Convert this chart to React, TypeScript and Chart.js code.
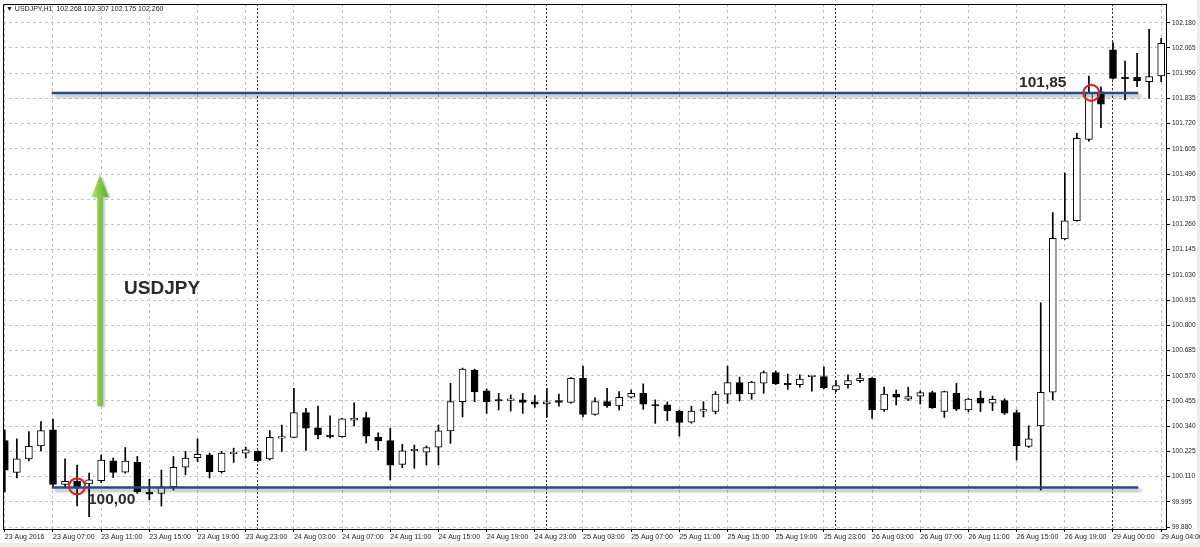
import React, { useEffect, useRef } from "react";
import { Chart, registerables } from "chart.js";
Chart.register(...registerables);

// ---- data (USDJPY, H1) ----
const opens = [
  100.275, 100.129, 100.191, 100.250, 100.323, 100.075, 100.090, 100.077, 100.092, 100.182,
  100.131, 100.175, 100.039, 100.034, 100.064, 100.153, 100.197, 100.209, 100.133, 100.215,
  100.217, 100.225, 100.191, 100.286, 100.289, 100.402, 100.333, 100.300, 100.292, 100.368,
  100.379, 100.291, 100.274, 100.166, 100.228, 100.222, 100.245, 100.319, 100.452, 100.596,
  100.501, 100.460, 100.458, 100.460, 100.451, 100.442, 100.457, 100.449, 100.558, 100.394,
  100.452, 100.432, 100.472, 100.490, 100.437, 100.437, 100.409, 100.359, 100.409, 100.407,
  100.486, 100.539, 100.487, 100.536, 100.585, 100.532, 100.529, 100.566, 100.566, 100.505,
  100.529, 100.548, 100.559, 100.414, 100.487, 100.463, 100.477, 100.493, 100.407, 100.490,
  100.414, 100.468, 100.445, 100.457, 100.402, 100.248, 100.341, 100.495, 101.194, 101.277,
  101.648, 101.865, 102.056, 101.931, 101.931, 101.911, 101.937,
];
const highs = [
  100.323, 100.282, 100.316, 100.361, 100.372, 100.191, 100.163, 100.126, 100.209, 100.195,
  100.243, 100.202, 100.098, 100.140, 100.202, 100.225, 100.282, 100.217, 100.225, 100.240,
  100.245, 100.228, 100.320, 100.345, 100.513, 100.422, 100.432, 100.387, 100.376, 100.447,
  100.404, 100.310, 100.331, 100.257, 100.254, 100.250, 100.345, 100.536, 100.605, 100.600,
  100.510, 100.490, 100.483, 100.490, 100.480, 100.513, 100.486, 100.562, 100.614, 100.470,
  100.513, 100.498, 100.505, 100.533, 100.460, 100.451, 100.414, 100.431, 100.452, 100.498,
  100.614, 100.564, 100.545, 100.592, 100.592, 100.578, 100.574, 100.572, 100.611, 100.548,
  100.574, 100.581, 100.562, 100.518, 100.505, 100.518, 100.501, 100.500, 100.500, 100.536,
  100.468, 100.500, 100.477, 100.465, 100.414, 100.342, 100.903, 101.314, 101.495, 101.676,
  101.937, 101.888, 102.089, 102.005, 102.040, 102.150, 102.109,
];
const lows = [
  100.040, 100.104, 100.182, 100.227, 100.064, 100.064, 99.976, 99.927, 100.083, 100.106,
  100.126, 100.034, 100.004, 99.976, 100.049, 100.118, 100.179, 100.104, 100.126, 100.175,
  100.195, 100.177, 100.186, 100.225, 100.289, 100.230, 100.282, 100.285, 100.290, 100.341,
  100.263, 100.232, 100.095, 100.151, 100.148, 100.163, 100.163, 100.262, 100.382, 100.452,
  100.399, 100.414, 100.409, 100.399, 100.426, 100.382, 100.431, 100.445, 100.382, 100.390,
  100.426, 100.414, 100.468, 100.417, 100.353, 100.365, 100.295, 100.354, 100.382, 100.396,
  100.444, 100.455, 100.463, 100.490, 100.530, 100.508, 100.518, 100.500, 100.511, 100.498,
  100.513, 100.540, 100.376, 100.407, 100.437, 100.457, 100.441, 100.421, 100.380, 100.411,
  100.405, 100.407, 100.411, 100.394, 100.186, 100.243, 100.049, 100.460, 101.190, 101.275,
  101.640, 101.701, 101.922, 101.828, 101.888, 101.835, 101.911,
];
const closes = [
  100.140, 100.191, 100.248, 100.320, 100.075, 100.089, 100.064, 100.095, 100.186, 100.129,
  100.181, 100.040, 100.030, 100.064, 100.153, 100.195, 100.212, 100.133, 100.217, 100.219,
  100.232, 100.182, 100.289, 100.292, 100.402, 100.331, 100.300, 100.292, 100.374, 100.376,
  100.295, 100.273, 100.162, 100.228, 100.232, 100.243, 100.319, 100.452, 100.601, 100.496,
  100.452, 100.455, 100.461, 100.449, 100.441, 100.451, 100.449, 100.558, 100.394, 100.452,
  100.432, 100.472, 100.490, 100.440, 100.432, 100.411, 100.357, 100.409, 100.412, 100.486,
  100.539, 100.487, 100.541, 100.585, 100.533, 100.529, 100.555, 100.570, 100.516, 100.525,
  100.548, 100.559, 100.414, 100.486, 100.472, 100.475, 100.493, 100.425, 100.498, 100.418,
  100.464, 100.445, 100.463, 100.399, 100.251, 100.282, 100.495, 101.197, 101.277, 101.653,
  101.858, 101.809, 101.926, 101.925, 101.914, 101.934, 102.086,
];

const xTickIndex = [0, 4, 8, 12, 16, 20, 24, 28, 32, 36, 40, 44, 48, 52, 56, 60, 64, 68, 72, 76, 80, 84, 88, 92, 96];
const xTickLabels = [
  "23 Aug 2016", "23 Aug 07:00", "23 Aug 11:00", "23 Aug 15:00", "23 Aug 19:00", "23 Aug 23:00",
  "24 Aug 03:00", "24 Aug 07:00", "24 Aug 11:00", "24 Aug 15:00", "24 Aug 19:00", "24 Aug 23:00",
  "25 Aug 03:00", "25 Aug 07:00", "25 Aug 11:00", "25 Aug 15:00", "25 Aug 19:00", "25 Aug 23:00",
  "26 Aug 03:00", "26 Aug 07:00", "26 Aug 11:00", "26 Aug 15:00", "26 Aug 19:00", "29 Aug 00:00",
  "29 Aug 04:00",
];
const daySeparators = [21, 45, 69, 92];
const yTickLabels = [
  "99.880", "99.995", "100.110", "100.225", "100.340", "100.455", "100.570", "100.685", "100.800",
  "100.915", "101.030", "101.145", "101.260", "101.375", "101.490", "101.605", "101.720", "101.835",
  "101.950", "102.065", "102.180",
];
const yMin = 99.8713;
const yMax = 102.2653;
const xMin = -0.15;
const xMax = 96.4;

const levelPrices = [100.061, 101.859];
const levelFrom = 3.9;
const levelTo = 94.1;
const markerIndex = [6.0, 90.2];
const markerPrice = [100.066, 101.86];

const noteTexts = ["100,00", "101,85", "USDJPY"];
const noteIndex = [6.9, 84.2, 9.9];
const notePrice = [100.004, 101.907, 100.966];
const arrowIndex = 7.9;
const arrowFromPrice = 100.432;
const arrowToPrice = 101.485;
const titleText = "\u25BC USDJPY,H1  102.268 102.307 102.175 102.260";

const FONT = '"Liberation Sans", Arial, "DejaVu Sans", sans-serif';

export default function App() {
  const ref = useRef<HTMLCanvasElement | null>(null);

  useEffect(() => {
    const canvas = ref.current;
    if (!canvas) return;
    const idx = opens.map((_, i) => i);
    const isUp = (i: number) => closes[i] >= opens[i];

    const decor = {
      id: "decor",
      beforeDraw(chart: any) {
        const { ctx, width, height } = chart;
        ctx.save();
        ctx.fillStyle = "#ffffff";
        ctx.fillRect(0, 0, width, height);
        ctx.fillStyle = "#ececec";
        ctx.fillRect(0, height - 4, width, 4);
        ctx.fillRect(width - 3, 0, 3, height);
        ctx.restore();
      },
      beforeDatasetDraw(chart: any, args: any) {
        const ds = chart.data.datasets[args.index];
        if (ds && String(ds.label).startsWith("level")) {
          const ctx = chart.ctx;
          ctx.shadowColor = "rgba(0,0,0,0.32)";
          ctx.shadowOffsetX = 3;
          ctx.shadowOffsetY = 3;
          ctx.shadowBlur = 3;
        }
      },
      afterDatasetDraw(chart: any) {
        const ctx = chart.ctx;
        ctx.shadowColor = "rgba(0,0,0,0)";
        ctx.shadowOffsetX = 0;
        ctx.shadowOffsetY = 0;
        ctx.shadowBlur = 0;
      },
      afterDatasetsDraw(chart: any) {
        const { ctx, chartArea } = chart;
        const xs = chart.scales.x;
        const ys = chart.scales.y;
        ctx.save();
        // arrow
        const ax = xs.getPixelForValue(arrowIndex);
        const yb = ys.getPixelForValue(arrowFromPrice);
        const yt = ys.getPixelForValue(arrowToPrice);
        const headH = 22, headW = 17, shaftW = 5.5;
        ctx.shadowColor = "rgba(0,0,0,0.25)";
        ctx.shadowOffsetX = 2;
        ctx.shadowOffsetY = 1;
        ctx.shadowBlur = 2;
        const g = ctx.createLinearGradient(ax - headW / 2, 0, ax + headW / 2, 0);
        g.addColorStop(0, "#b4e47c");
        g.addColorStop(0.45, "#86cc45");
        g.addColorStop(1, "#5fa82c");
        ctx.fillStyle = g;
        ctx.beginPath();
        ctx.moveTo(ax - shaftW / 2, yb);
        ctx.lineTo(ax - shaftW / 2, yt + headH);
        ctx.lineTo(ax - headW / 2, yt + headH);
        ctx.lineTo(ax, yt);
        ctx.lineTo(ax + headW / 2, yt + headH);
        ctx.lineTo(ax + shaftW / 2, yt + headH);
        ctx.lineTo(ax + shaftW / 2, yb);
        ctx.closePath();
        ctx.fill();
        ctx.shadowColor = "rgba(0,0,0,0)";
        // notes
        ctx.textBaseline = "middle";
        ctx.textAlign = "left";
        noteTexts.forEach((t, i) => {
          const size = t === "USDJPY" ? 19 : 15.5;
          ctx.font = `bold ${size}px ${FONT}`;
          ctx.fillStyle = "#2a2a2a";
          ctx.fillText(t, xs.getPixelForValue(noteIndex[i]), ys.getPixelForValue(notePrice[i]));
        });
        // title
        ctx.font = `7px ${FONT}`;
        ctx.fillStyle = "#222";
        ctx.fillText(titleText, chartArea.left + 3, chartArea.top + 5.5);
        // left / top frame
        ctx.strokeStyle = "#000";
        ctx.lineWidth = 1;
        ctx.beginPath();
        ctx.moveTo(chartArea.left + 0.5, chartArea.bottom);
        ctx.lineTo(chartArea.left + 0.5, chartArea.top + 0.5);
        ctx.lineTo(chartArea.right, chartArea.top + 0.5);
        ctx.stroke();
        ctx.restore();
      },
    };

    const chart = new Chart(canvas, {
      type: "bar",
      data: {
        datasets: [
          {
            type: "line",
            label: "level-low",
            data: [
              { x: levelFrom, y: levelPrices[0] },
              { x: levelTo, y: levelPrices[0] },
            ],
            borderColor: "#1f4d8c",
            borderWidth: 2.5,
            pointRadius: 0,
            order: 0,
          },
          {
            type: "line",
            label: "level-high",
            data: [
              { x: levelFrom, y: levelPrices[1] },
              { x: levelTo, y: levelPrices[1] },
            ],
            borderColor: "#1f4d8c",
            borderWidth: 2.5,
            pointRadius: 0,
            order: 0,
          },
          {
            type: "line",
            label: "markers",
            data: markerIndex.map((x, i) => ({ x, y: markerPrice[i] })),
            showLine: false,
            pointStyle: "circle",
            pointRadius: 8,
            pointBorderWidth: 2.2,
            pointBorderColor: "#d22a2a",
            pointBackgroundColor: "rgba(0,0,0,0)",
            order: -1,
          },
          {
            type: "bar",
            label: "body",
            data: idx.map((i) => ({ x: i, y: [Math.min(opens[i], closes[i]), Math.max(opens[i], closes[i])] })) as any,
            backgroundColor: (c: any) => (isUp(c.dataIndex) ? "#ffffff" : "#000000"),
            borderColor: "#000000",
            borderWidth: 1,
            borderSkipped: false,
            barThickness: 7,
            minBarLength: 1.5,
            grouped: false,
            order: 1,
          },
          {
            type: "bar",
            label: "wick",
            data: idx.map((i) => ({ x: i, y: [lows[i], highs[i]] })) as any,
            backgroundColor: "#000000",
            borderWidth: 0,
            barThickness: 1,
            grouped: false,
            order: 2,
          },
        ] as any,
      },
      options: {
        responsive: false,
        animation: false,
        devicePixelRatio: 1,
        layout: { autoPadding: false, padding: { left: 3, top: 4, right: 0, bottom: 0 } },
        plugins: { legend: { display: false }, tooltip: { enabled: false }, title: { display: false } },
        scales: {
          x: {
            type: "linear",
            position: "bottom",
            min: xMin,
            max: xMax,
            offset: false,
            afterBuildTicks: (s: any) => {
              s.ticks = xTickIndex.map((v) => ({ value: v }));
            },
            afterFit: (s: any) => {
              s.height = 18;
              s.paddingLeft = 0;
              s.paddingRight = 0;
            },
            ticks: {
              autoSkip: false,
              maxRotation: 0,
              minRotation: 0,
              align: "start",
              padding: 1,
              color: "#222",
              font: { family: FONT, size: 7 },
              callback: (v: any) => {
                const k = xTickIndex.indexOf(Number(v));
                return k >= 0 ? xTickLabels[k] : null;
              },
            },
            grid: { color: "#c4c4c4", lineWidth: 1, offset: false, drawTicks: true, tickLength: 3, tickColor: "#000" },
            border: { display: true, color: "#000", width: 1, dash: [3, 3] },
          },
          xd: {
            type: "linear",
            position: "bottom",
            min: xMin,
            max: xMax,
            offset: false,
            afterBuildTicks: (s: any) => {
              s.ticks = daySeparators.map((v) => ({ value: v }));
            },
            afterFit: (s: any) => {
              s.height = 0;
              s.paddingLeft = 0;
              s.paddingRight = 0;
            },
            ticks: { display: false },
            grid: { color: "#2a2a2a", lineWidth: 1, offset: false, drawTicks: false },
            border: { display: false, dash: [2, 2] },
          },
          y: {
            type: "linear",
            position: "right",
            min: yMin,
            max: yMax,
            beginAtZero: false,
            afterBuildTicks: (s: any) => {
              s.ticks = yTickLabels.map((t) => ({ value: parseFloat(t) }));
            },
            afterFit: (s: any) => {
              s.width = 34;
              s.paddingTop = 0;
              s.paddingBottom = 0;
            },
            ticks: {
              padding: 2,
              color: "#222",
              font: { family: FONT, size: 6.5 },
              callback: (v: any) => Number(v).toFixed(3),
            },
            grid: { color: "#c4c4c4", lineWidth: 1, drawTicks: true, tickLength: 4, tickColor: "#000" },
            border: { display: true, color: "#000", width: 1, dash: [3, 3] },
          },
        },
      } as any,
      plugins: [decor],
    });
    return () => chart.destroy();
  }, []);

  return (
    <div style={{ position: "absolute", left: 0, top: 0, width: 1200, height: 547, background: "#fff" }}>
      <canvas ref={ref} width={1200} height={547} style={{ display: "block", width: 1200, height: 547 }} />
    </div>
  );
}
